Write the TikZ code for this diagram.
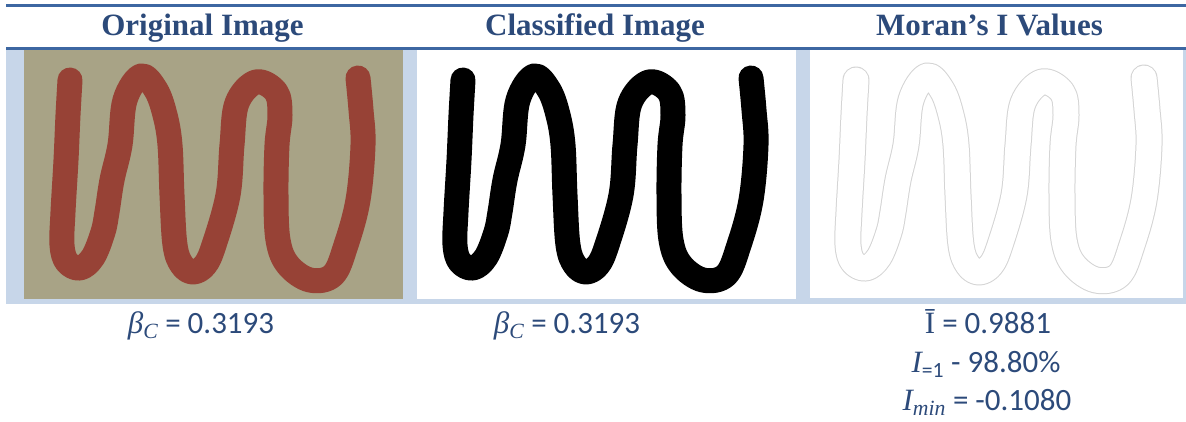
\documentclass[tikz,border=0pt]{standalone}
\usepackage{fontspec}
\setmainfont{Carlito}
\newfontfamily\headfont{Liberation Serif}
\newfontfamily\symfont{Liberation Serif}
\definecolor{rule}{HTML}{3D67A2}
\definecolor{headtext}{HTML}{2C4A7A}
\definecolor{rowblue}{HTML}{C7D6E9}
\definecolor{khaki}{HTML}{A8A386}
\definecolor{brick}{HTML}{974236}
\definecolor{outline}{HTML}{D4D4D4}
\def\snake{(70,80) (68,115) (66,160) (63,212) (62,245) (67,262) (80,268) (93,257) (103,232) (107,212) (112,180) (120,145) (125,100) (141,76) (156,90) (165,115) (170,145) (172,195) (175,245) (182,265) (193,272) (205,265) (214,245) (228,195) (232,145) (237,103) (256,82) (276,92) (280,115) (277,145) (276,195) (278,240) (288,265) (310,280) (333,275) (346,245) (358,200) (363,145) (361,110) (358,78)}
\tikzset{
  headlabel/.style={font=\headfont\bfseries\fontsize{31}{36}\selectfont, text=headtext, inner sep=0pt, anchor=base},
  vallabel/.style={font=\fontsize{31}{36}\selectfont, text=headtext, inner sep=0pt, anchor=base},
  stroke/.style={line width=25pt, line cap=round, line join=round},
}
\begin{document}
\begin{tikzpicture}[x=1pt,y=-1pt]
\useasboundingbox (0,0) rectangle (1186,421);
% table rules and shaded image row
\fill[rowblue] (6,49) rectangle (1186,304);
\fill[rule] (6,4) rectangle (1186,6.5);
\fill[rule] (6,47) rectangle (1186,49.5);
% headers
\node[headlabel] (h1) at (202.5,35) {Original Image};
\node[headlabel] (h2) at (595,35) {Classified Image};
\node[headlabel] (h3) at (989.5,35) {Moran’s I Values};
% original image
\begin{scope}
  \fill[khaki] (24,50) rectangle (403,299);
  \clip (24,50) rectangle (403,299);
  \draw[stroke, brick] plot[smooth, tension=0.6] coordinates {\snake};
\end{scope}
% classified image
\begin{scope}[shift={(393,0)}]
  \fill[white] (24,50) rectangle (403,299);
  \clip (24,50) rectangle (403,299);
  \draw[stroke, black] plot[smooth, tension=0.6] coordinates {\snake};
\end{scope}
% Moran's I image
\begin{scope}[shift={(786,0)}]
  \fill[white] (24,50) rectangle (397,298);
  \clip (24,50) rectangle (397,298);
  \draw[stroke, line width=27pt, outline] plot[smooth, tension=0.6] coordinates {\snake};
  \draw[stroke, white] plot[smooth, tension=0.6] coordinates {\snake};
\end{scope}
% values
\node[vallabel] (v1) at (201,333) {{\symfont\itshape β\textsubscript{C}} = 0.3193};
\node[vallabel] (v2) at (567,333) {{\symfont\itshape β\textsubscript{C}} = 0.3193};
\node[vallabel] (m1) at (988,333) {{\symfont Ī} = 0.9881};
\node[vallabel] (m2) at (986,372) {{\symfont\itshape I}\textsubscript{=1} - 98.80\%};
\node[vallabel] (m3) at (987,410) {{\symfont\itshape I\textsubscript{min}} = -0.1080};
\end{tikzpicture}
\end{document}
